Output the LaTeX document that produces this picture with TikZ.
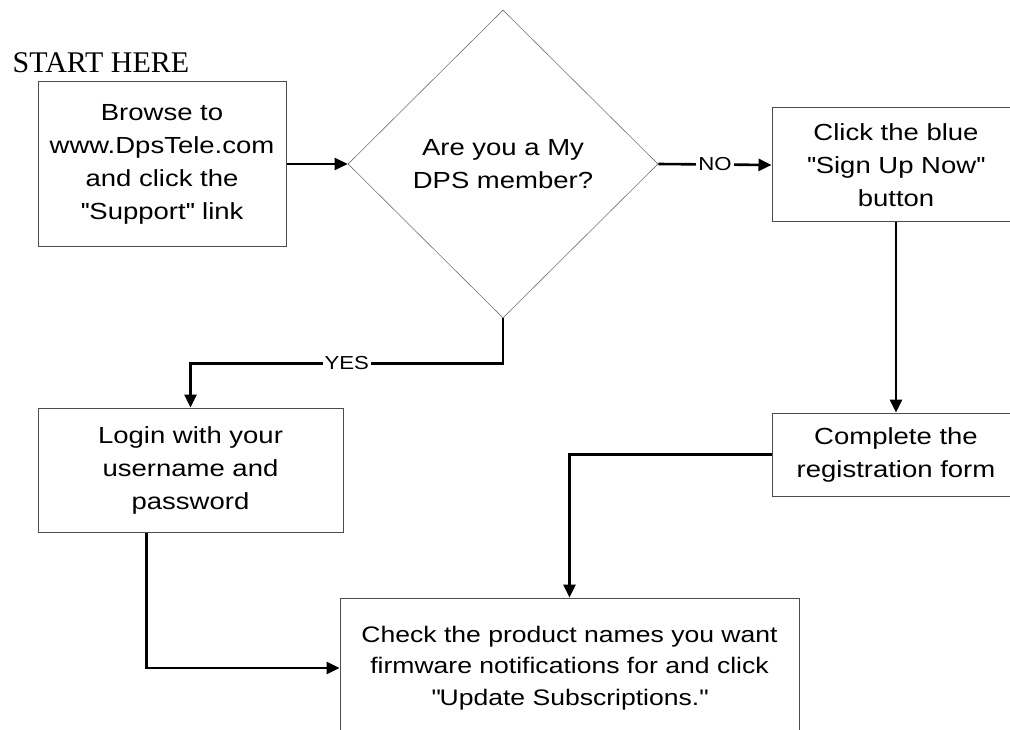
\documentclass[tikz,border=0pt]{standalone}
\usepackage{fontspec}
\setmainfont{Liberation Sans}[FakeStretch=1.18]
\newfontfamily\startfont{Liberation Serif}
\usetikzlibrary{shapes.geometric,arrows.meta}

\newcommand{\tq}{\textquotesingle\textquotesingle}
\newcommand{\dq}{\XeTeXglyph\XeTeXcharglyph"22\relax}

\begin{document}
\begin{tikzpicture}[x=1pt,y=-1pt,
    flow/.style={line width=2.6pt,-{Triangle[length=13pt,width=12pt]}},
    lbl/.style={fill=white,inner sep=2pt,font=\fontsize{18.8}{22}\selectfont}]

  \clip (0,0) rectangle (1010,730);

  \node[font=\startfont\fontsize{30}{36}\selectfont] (start) at (101,63) {START HERE};

  \begin{scope}[every node/.style={draw=black!70,line width=1pt,align=center,inner sep=0pt,
      font=\fontsize{23.3}{33}\selectfont}]
    \node[minimum width=248pt,minimum height=165pt] (browse) at (162,164)
      {Browse to\\www.DpsTele.com\\and click the\\\tq Support\tq{} link};
    \node[shape=diamond,draw=black!55,line width=0.6pt,minimum width=310pt,minimum height=308pt]
      (member) at (503,164) {Are you a My\\DPS member?};
    \node[minimum width=248pt,minimum height=114pt] (signup) at (896,165)
      {Click the blue\\\tq Sign Up Now\tq\\button};
    \node[minimum width=248pt,minimum height=83pt] (regform) at (896,454.5)
      {Complete the\\registration form};
    \node[minimum width=305pt,minimum height=124pt] (login) at (190.5,470)
      {Login with your\\username and\\password};
    \node[minimum width=459pt,minimum height=140pt,font=\fontsize{22.5}{31.5}\selectfont]
      (subscribe) at (569.5,668)
      {Check the product names you want\\firmware notifications for and click\\\dq Update Subscriptions.\dq};
  \end{scope}

  % connectors
  \draw[flow] (browse.east) -- (member.west);
  \draw[flow] (member.east) -- node[lbl] {NO} (signup.west);
  \draw[flow] (signup.south) -- (regform.north);
  \draw[flow] (member.south) -- ++(0,45) -| node[lbl,pos=0.25] {YES} (login.north);
  \draw[flow] (regform.west) -| (subscribe.north);
  \draw[flow] ([xshift=-44pt]login.south) |- (subscribe.west);

\end{tikzpicture}
\end{document}
